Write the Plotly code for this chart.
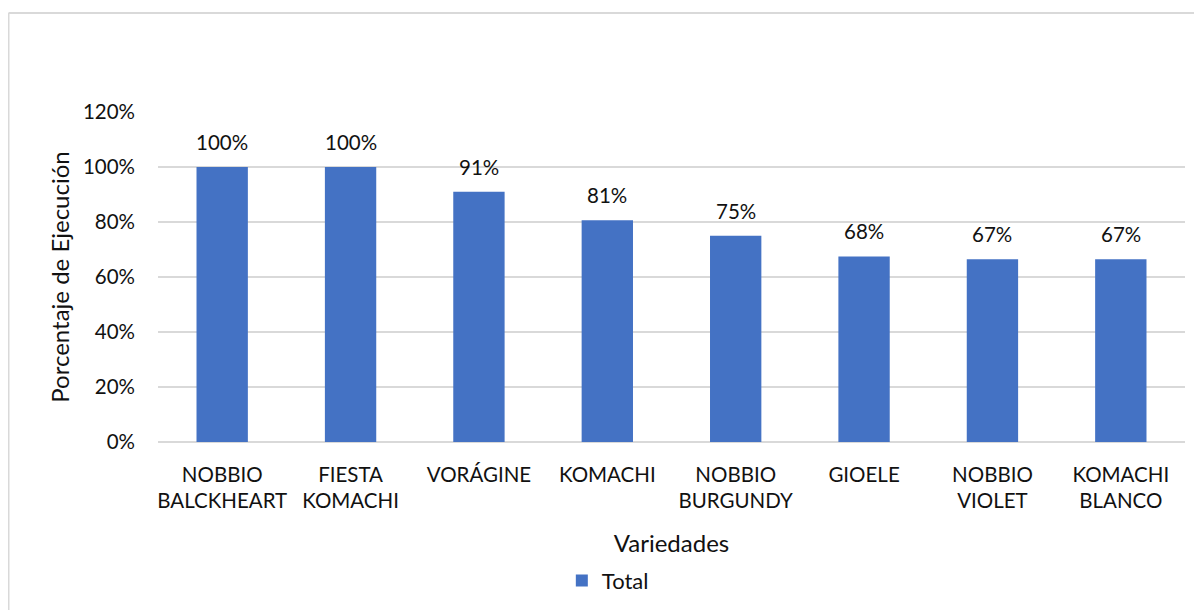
import plotly.graph_objects as go

categories = ["NOBBIO<br>BALCKHEART", "FIESTA<br>KOMACHI", "VORÁGINE", "KOMACHI",
              "NOBBIO<br>BURGUNDY", "GIOELE", "NOBBIO<br>VIOLET", "KOMACHI<br>BLANCO"]
values = [1.00, 1.00, 0.91, 0.806, 0.75, 0.675, 0.665, 0.665]
value_labels = ["100%", "100%", "91%", "81%", "75%", "68%", "67%", "67%"]
y_ticks = [0, 0.2, 0.4, 0.6, 0.8, 1.0, 1.2]
y_tick_labels = ["0%", "20%", "40%", "60%", "80%", "100%", "120%"]

FONT = "Lato"
TXT = "#111111"
FS = 20.5

fig = go.Figure()
fig.add_trace(go.Bar(
    x=categories, y=values, name="Total",
    marker=dict(color="#4472C4", line=dict(width=0)),
    hoverinfo="skip",
))

annotations = [
    dict(x=c, y=v, text=t, xref="x", yref="y", showarrow=False,
         yanchor="bottom", yshift=11, font=dict(family=FONT, size=FS, color=TXT))
    for c, v, t in zip(categories, values, value_labels)
]

# page body has an 8px margin; figure sized to fit
W, H = 1194, 602
L, R, T, B = 150, 17, 104, 168
pw, ph = W - L - R, H - T - B
bx = (0.5 - L) / pw
by = (H - 5 - B) / ph
shapes = [
    dict(type="line", xref="paper", yref="paper", x0=bx, x1=bx, y0=-B / ph, y1=by,
         line=dict(color="#D9D9D9", width=2)),
    dict(type="line", xref="paper", yref="paper", x0=bx, x1=(W - L) / pw + 0.01, y0=by, y1=by,
         line=dict(color="#D9D9D9", width=2)),
]

fig.update_layout(
    width=W, height=H,
    margin=dict(l=L, r=R, t=T, b=B, autoexpand=False),
    paper_bgcolor="white", plot_bgcolor="white",
    font=dict(family=FONT, size=FS, color=TXT),
    bargap=0.6,
    showlegend=True,
    legend=dict(orientation="h", x=0.438, xanchor="center", y=-0.42, yanchor="middle",
                font=dict(family=FONT, size=22, color=TXT), itemwidth=30),
    annotations=annotations,
    shapes=shapes,
    xaxis=dict(
        title=dict(text="Variedades", font=dict(family=FONT, size=24, color=TXT), standoff=24),
        showgrid=False, showline=False, ticks="", ticklabelstandoff=18,
        tickfont=dict(family=FONT, size=FS, color=TXT),
    ),
    yaxis=dict(
        title=dict(text="Porcentaje de Ejecución", font=dict(family=FONT, size=24, color=TXT), standoff=6),
        range=[0, 1.2], tickvals=y_ticks, ticktext=y_tick_labels,
        showgrid=True, gridcolor="#D9D9D9", gridwidth=1.5,
        zeroline=True, zerolinecolor="#D9D9D9", zerolinewidth=1.5,
        showline=False, ticks="", ticklabelstandoff=22,
        tickfont=dict(family=FONT, size=FS, color=TXT),
    ),
)

fig.write_html("out.html")
